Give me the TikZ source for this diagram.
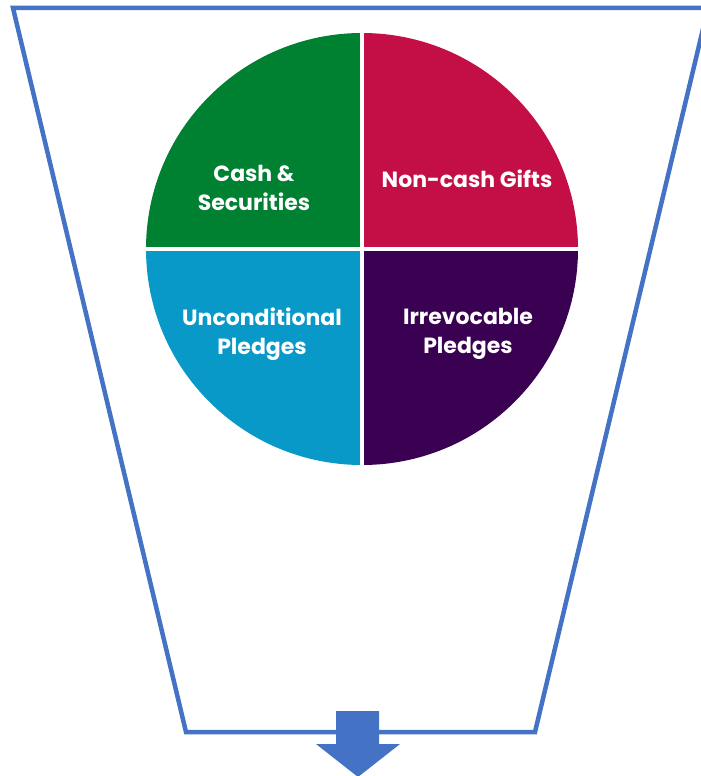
\documentclass[tikz,border=0pt]{standalone}
\usepackage{fontspec}
\setmainfont{Poppins}[BoldFont={* Bold}]
\definecolor{frameblue}{RGB}{68,114,196}
\definecolor{qgreen}{RGB}{0,128,49}
\definecolor{qred}{RGB}{195,15,69}
\definecolor{qblue}{RGB}{8,153,200}
\definecolor{qpurple}{RGB}{58,0,82}
\begin{document}
\begin{tikzpicture}[x=1pt,y=-1pt,
  lbl/.style={text=white,font=\bfseries\fontsize{22}{29}\selectfont,align=center,inner sep=0pt},
  frame/.style={draw=frameblue,line width=4.5pt,line join=miter}]
\useasboundingbox (0,0) rectangle (701,776);
\coordinate (c) at (362,249);
\def\R{216}
% quadrants (y axis points down: angle 270 is up on the page)
\fill[qgreen] (c) -- ++(-\R,0) arc[start angle=180,end angle=270,radius=\R] -- cycle;
\fill[qred] (c) -- ++(0,-\R) arc[start angle=270,end angle=360,radius=\R] -- cycle;
\fill[qblue] (c) -- ++(-\R,0) arc[start angle=180,end angle=90,radius=\R] -- cycle;
\fill[qpurple] (c) -- ++(0,\R) arc[start angle=90,end angle=0,radius=\R] -- cycle;
\draw[white,line width=4pt] ([xshift=-\R-1]c) -- ([xshift=\R+1]c);
\draw[white,line width=4pt] ([yshift=-\R-1]c) -- ([yshift=\R+1]c);
% labels
\node[lbl] (cash) at (254,188) {Cash \&\\Securities};
\node[lbl] (noncash) at (467,179) {Non-cash Gifts};
\node[lbl] (uncond) at (262,334) {Unconditional\\Pledges};
\node[lbl] (irrev) at (468,334) {Irrevocable\\Pledges};
% funnel frame
\coordinate (tl) at (13,8);
\coordinate (tr) at (708,8);
\coordinate (br) at (535,732);
\coordinate (bl) at (186,732);
\draw[frame] (tr) -- (tl) -- (bl) -- (br) -- cycle;
% arrow
\fill[frameblue] (336,711) -- (379,711) -- (379,744) -- (400,744) -- (358,777) -- (316,744) -- (336,744) -- cycle;
\end{tikzpicture}
\end{document}
